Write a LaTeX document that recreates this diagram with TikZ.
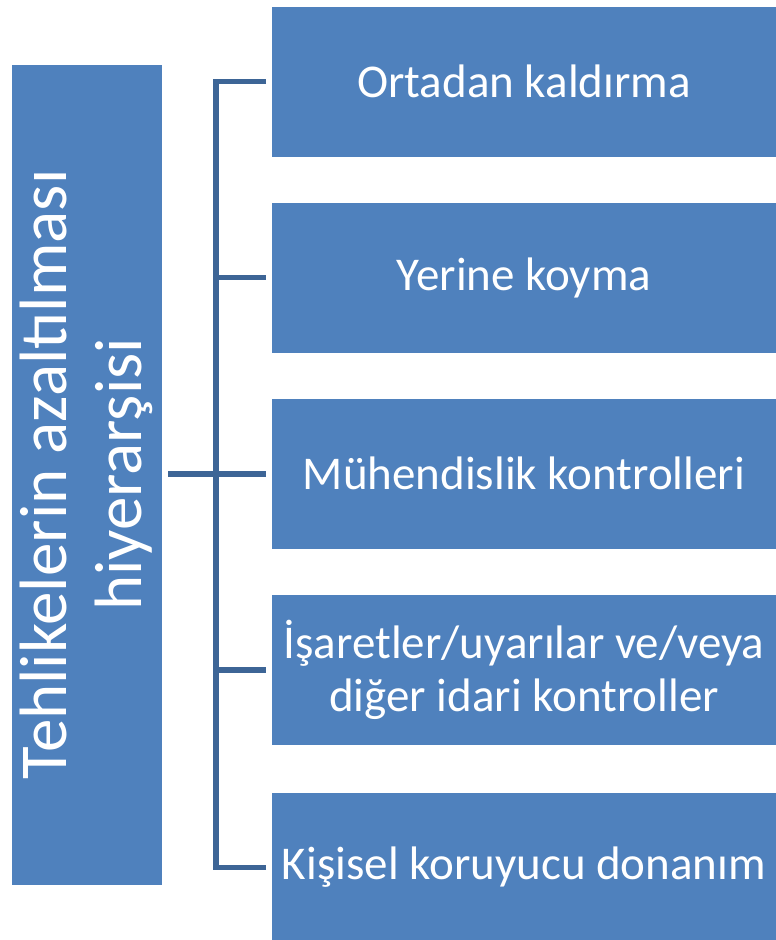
\documentclass[tikz,border=0pt]{standalone}
\usepackage{fontspec}
\setmainfont{Carlito}
\definecolor{boxblue}{RGB}{79,129,189}
\definecolor{lineblue}{RGB}{61,101,150}
\begin{document}
\begin{tikzpicture}[x=1pt,y=-1pt,
  box/.style={draw=white, line width=0.6pt, fill=boxblue, inner sep=0pt, outer sep=0pt},
  rbox/.style={box, minimum width=506pt, minimum height=151pt, text=white, align=center,
     font=\fontsize{47}{53}\selectfont},
  txt/.style={text=white, align=center, font=\fontsize{67}{75}\selectfont, inner sep=0pt},
  conn/.style={draw=lineblue, line width=5.5pt, line join=miter}]
\useasboundingbox (0,0) rectangle (776,940);
\node[box, minimum width=151pt, minimum height=821pt] (L) at (86.5,474.5) {};
\node[txt, rotate=90] (Lt) at (L.center) {Tehlikelerin azaltılması\\hiyerarşisi};
\node[rbox] (b1) at (524,81.5) {Ortadan kaldırma};
\node[rbox] (b2) at (524,277.5) {Yerine koyma};
\node[rbox] (b3) at (524,473.5) {Mühendislik kontrolleri};
\node[rbox] (b4) at (524,670) {İşaretler/uyarılar ve/veya\\diğer idari kontroller};
\node[rbox] (b5) at (524,867.5) {Kişisel koruyucu donanım};
\coordinate (j) at (216,474);
\draw[conn, shorten <=6pt, shorten >=5pt] (L.east |- j) -- (b3.west |- j);
\draw[conn, shorten <=5pt] (b1.west) -| (j);
\draw[conn, shorten <=5pt] (b5.west) -| (j);
\draw[conn, shorten >=5pt] (j |- b2.west) -- (b2.west);
\draw[conn, shorten >=5pt] (j |- b4.west) -- (b4.west);
\end{tikzpicture}
\end{document}
